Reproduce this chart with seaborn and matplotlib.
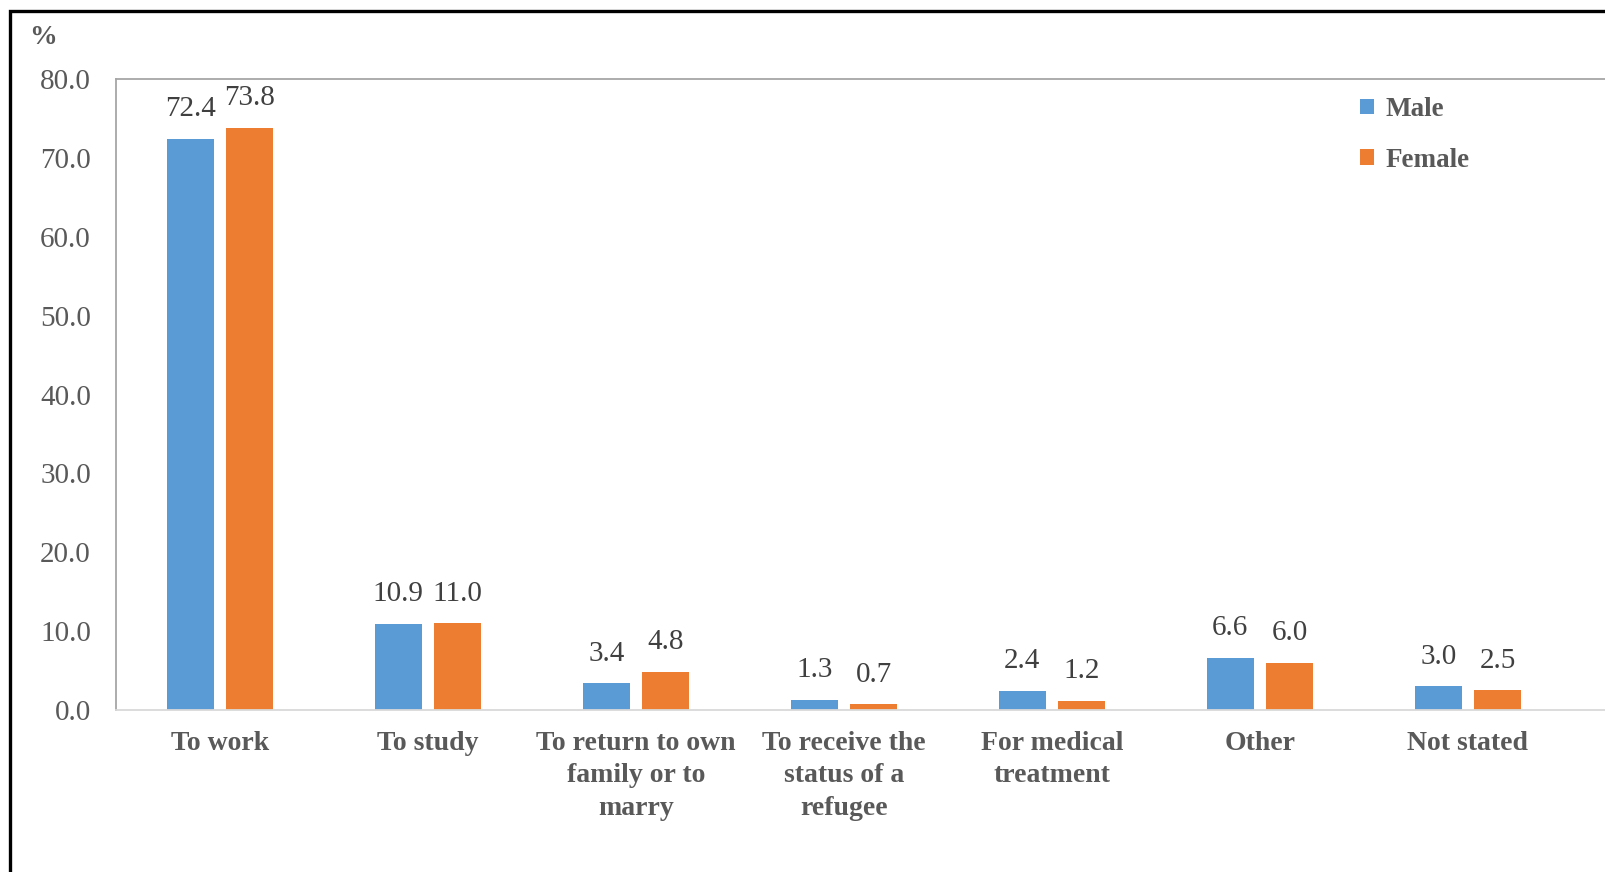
import matplotlib
matplotlib.use("Agg")
import matplotlib.pyplot as plt
import seaborn as sns
import pandas as pd
from matplotlib.patches import Patch, Rectangle

categories = ["To work", "To study", "To return to own\nfamily or to\nmarry",
              "To receive the\nstatus of a\nrefugee", "For medical\ntreatment",
              "Other", "Not stated"]
male = [72.4, 10.9, 3.4, 1.3, 2.4, 6.6, 3.0]
female = [73.8, 11.0, 4.8, 0.7, 1.2, 6.0, 2.5]
series = ["Male", "Female"]
yticks = [0, 10, 20, 30, 40, 50, 60, 70, 80]

df = pd.DataFrame({
    "category": categories * 2,
    "value": male + female,
    "sex": ["Male"] * len(categories) + ["Female"] * len(categories),
})

sns.set_theme(style="white")
plt.rcParams["font.family"] = ["Liberation Serif", "DejaVu Serif"]

W, H = 1606, 872
fig = plt.figure(figsize=(W / 100, H / 100), dpi=100)
fig.patch.set_facecolor("white")

# outer frame
fig.patches.append(Rectangle((10 / W, -0.1), 1.2, 1 - 11 / H + 0.1,
                             transform=fig.transFigure, fill=False,
                             edgecolor="black", linewidth=2.4, zorder=0))

left = 116 / W
bottom = 1 - 710 / H
top = 1 - 79 / H
ax = fig.add_axes([left, bottom, 1.0 - left + 0.01, top - bottom])

colors = {"Male": "#5B9BD5", "Female": "#ED7D31"}
sns.barplot(data=df, x="category", y="value", hue="sex", hue_order=series,
            order=categories, palette=colors, saturation=1, width=0.57, gap=0.2,
            linewidth=0, ax=ax, legend=False)

span = (1606 + 0.01 * W - 116) / 208.0
ax.set_xlim(-0.5, -0.5 + span)
ax.set_ylim(0, 80)
ax.set_yticks(yticks)
ax.set_yticklabels([f"{v:.1f}" for v in yticks], fontsize=21, color="#595959")
ax.set_xlabel("")
ax.set_ylabel("")
ax.tick_params(axis="y", length=0, pad=18)
ax.tick_params(axis="x", length=0, pad=15)
for lab in ax.get_xticklabels():
    lab.set_fontweight("bold")
    lab.set_fontsize(20)
    lab.set_color("#595959")
    lab.set_linespacing(1.4)

for c in ax.containers:
    ax.bar_label(c, fmt="%.1f", padding=12, fontsize=21, color="#404040")

ax.spines["left"].set_color("#a6a6a6")
ax.spines["top"].set_color("#a6a6a6")
ax.spines["bottom"].set_color("#d9d9d9")
ax.spines["right"].set_visible(False)
for s in ["left", "top", "bottom"]:
    ax.spines[s].set_linewidth(1.3)
ax.grid(False)

handles = [Patch(facecolor=colors[s], edgecolor="none", label=s) for s in series]
leg = fig.legend(handles=handles, loc="upper left",
                 bbox_to_anchor=(1360 / W, 1 - 97 / H),
                 frameon=False, borderpad=0, borderaxespad=0,
                 handlelength=0.5, handleheight=0.5, handletextpad=0.45,
                 labelspacing=0.95, prop={"family": "Liberation Serif",
                                          "weight": "bold", "size": 19.5})
for t in leg.get_texts():
    t.set_color("#595959")

fig.text(29 / W, 1 - 37 / H, "%", fontsize=20, fontweight="bold",
         color="#595959", va="center", ha="left")

fig.savefig("out.png", dpi=100)
